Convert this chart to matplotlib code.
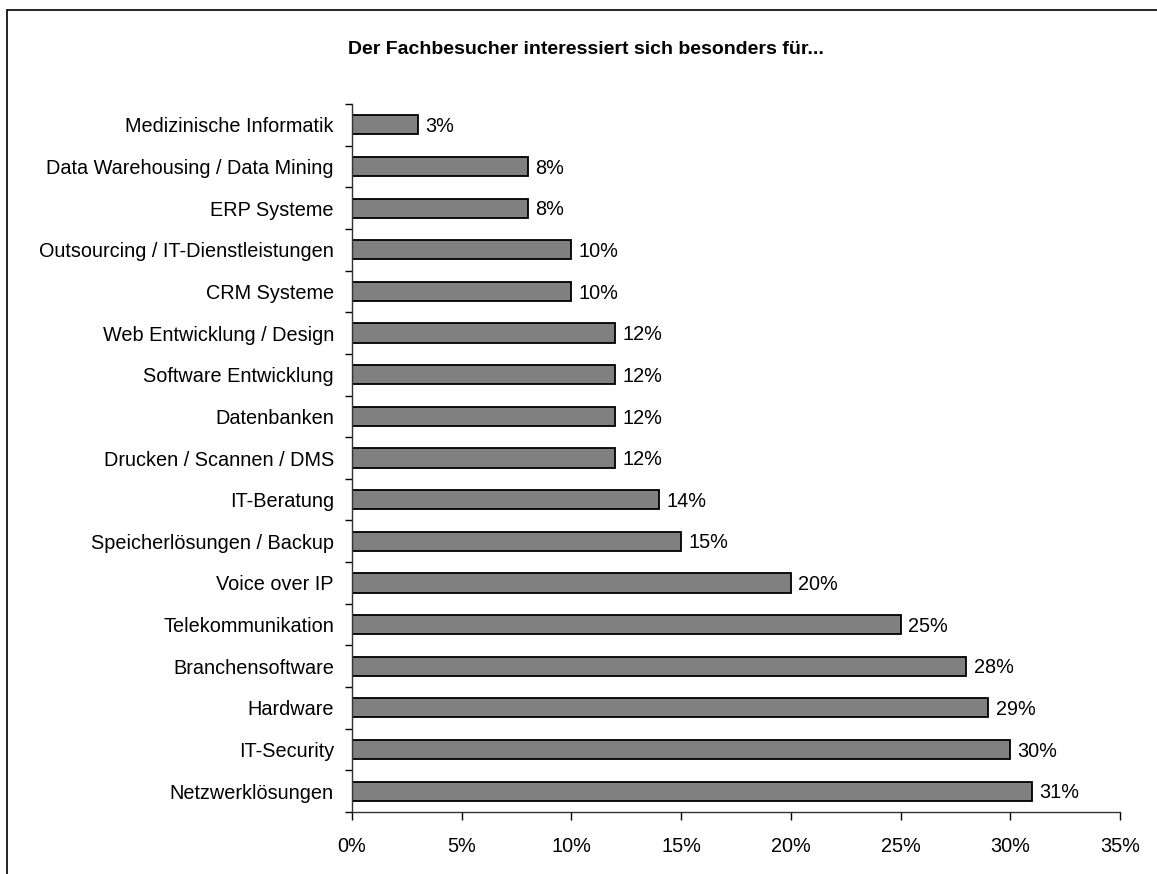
import matplotlib
matplotlib.use("Agg")
import matplotlib.pyplot as plt
from matplotlib.patches import Rectangle
from matplotlib.ticker import FuncFormatter, MultipleLocator

plt.rcParams['font.family'] = ['Liberation Sans', 'DejaVu Sans']

title = "Der Fachbesucher interessiert sich besonders für..."
categories = [
    "Netzwerklösungen", "IT-Security", "Hardware", "Branchensoftware",
    "Telekommunikation", "Voice over IP", "Speicherlösungen / Backup",
    "IT-Beratung", "Drucken / Scannen / DMS", "Datenbanken",
    "Software Entwicklung", "Web Entwicklung / Design", "CRM Systeme",
    "Outsourcing / IT-Dienstleistungen", "ERP Systeme",
    "Data Warehousing / Data Mining", "Medizinische Informatik",
]
values = [31, 30, 29, 28, 25, 20, 15, 14, 12, 12, 12, 12, 10, 10, 8, 8, 3]

W, H = 1157, 874
fs = 14.3
fig = plt.figure(figsize=(W / 100, H / 100), dpi=100)
ax = fig.add_axes([352 / W, 1 - 812 / H, (1120 - 352) / W, (812 - 104) / H])

y = list(range(len(categories)))
ax.barh(y, values, height=0.46, color="#808080", edgecolor="black", linewidth=1.3)
for yi, v in zip(y, values):
    ax.text(v + 0.33, yi - 0.04, f"{v}%", va="center", ha="left", fontsize=fs)

ax.set_xlim(0, 35)
ax.set_ylim(-0.5, len(categories) - 0.5)
ax.xaxis.set_major_locator(MultipleLocator(5))
ax.xaxis.set_major_formatter(FuncFormatter(lambda x, p: f"{int(round(x))}%"))
ax.set_yticks(y)
ax.set_yticklabels(categories, fontsize=fs)
ax.set_yticks([i - 0.5 for i in range(len(categories) + 1)], minor=True)
ax.tick_params(axis="y", which="major", length=0, pad=13)
ax.tick_params(axis="y", which="minor", length=5, width=1)
ax.tick_params(axis="x", length=6, width=1, labelsize=fs, pad=12)
for s in ["top", "right"]:
    ax.spines[s].set_visible(False)
for s in ["left", "bottom"]:
    ax.spines[s].set_linewidth(1)
    ax.spines[s].set_color("#333333")

fig.text(586 / W, 1 - 50 / H, title, ha="center", va="center",
         fontsize=14, fontweight="bold")

border = Rectangle((7 / W, -0.05), 1.1, 1 - 10 / H + 0.05, transform=fig.transFigure,
                   fill=False, edgecolor="black", linewidth=1.2, clip_on=False)
fig.patches.append(border)

fig.savefig("out.png", dpi=100)
